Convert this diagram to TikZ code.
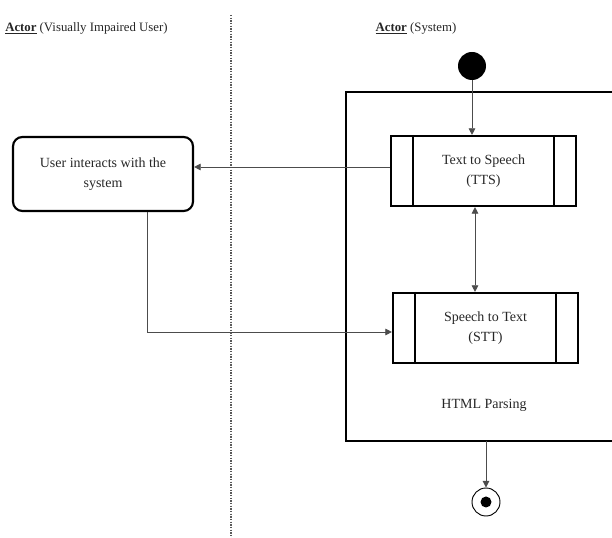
\documentclass[tikz,border=0pt]{standalone}
\usepackage{fontspec}
\setmainfont{Liberation Serif}
\usetikzlibrary{arrows.meta}
\begin{document}
\begin{tikzpicture}[x=0.75pt,y=-0.75pt,
  label/.style={font=\fontsize{10.5}{14.5}\selectfont, text=black!85, align=center},
  heading/.style={font=\fontsize{9.6}{12}\selectfont, text=black!85},
  proc/.style={draw, line width=1.6pt, minimum width=185*0.75pt, minimum height=70*0.75pt, inner sep=0pt, label},
  act/.style={draw, line width=1.6pt, rounded corners=7pt, minimum width=180*0.75pt, minimum height=74*0.75pt, inner sep=0pt, label},
  flow/.style={draw=black!70, line width=0.7pt, -{Triangle[length=5pt,width=5pt]}},
  both/.style={draw=black!70, line width=0.7pt, {Triangle[length=5pt,width=5pt]}-{Triangle[length=5pt,width=5pt]}}]
\useasboundingbox (0,0) rectangle (612,538);
\begin{scope}
\clip (0,0) rectangle (612,538);

% swimlane divider
\draw[black!65, line width=0.8pt, dash pattern=on 1pt off 1pt] (231,15) -- (231,538);

% lane headings
\node[heading, anchor=west, inner sep=0pt] (hdrUser) at (5,28) {\underline{\textbf{Actor}} (Visually Impaired User)};
\node[heading] (hdrSys) at (416,28) {\underline{\textbf{Actor}} (System)};

% system partition
\draw[line width=1.8pt] (625,92) -- (346,92) -- (346,441) -- (625,441);
\node[label] (html) at (484,405) {HTML Parsing};

% start and end
\node[circle, fill=black, minimum size=28*0.75pt, inner sep=0pt] (start) at (472,66) {};
\node[circle, draw, line width=0.7pt, minimum size=28*0.75pt, inner sep=0pt] (end) at (486,502) {};
\node[circle, fill=black, minimum size=11*0.75pt, inner sep=0pt] (endDot) at (486,502) {};
\coordinate (partBottom) at (486,441);

% activities
\node[proc] (tts) at (483.5,171) {Text to Speech\\(TTS)};
\node[proc] (stt) at (485.5,328) {Speech to Text\\(STT)};
\node[act] (user) at (103,174) {User interacts with the\\system};

% sub-process bars
\draw[line width=1.6pt] ([xshift=23*0.75pt]tts.north west) -- ([xshift=23*0.75pt]tts.south west);
\draw[line width=1.6pt] ([xshift=-23*0.75pt]tts.north east) -- ([xshift=-23*0.75pt]tts.south east);
\draw[line width=1.6pt] ([xshift=23*0.75pt]stt.north west) -- ([xshift=23*0.75pt]stt.south west);
\draw[line width=1.6pt] ([xshift=-23*0.75pt]stt.north east) -- ([xshift=-23*0.75pt]stt.south east);

% connectors
\draw[flow] (start.south) -- (start.south |- tts.north);
\draw[flow] (tts.west |- 0,167) -- (user.east |- 0,167);
\draw[both] (475,0 |- tts.south) -- (475,0 |- stt.north);
\draw[flow] (147,0 |- user.south) |- (stt.west |- 0,332);
\draw[flow] (partBottom) -- (end.north);
\end{scope}
\end{tikzpicture}
\end{document}
